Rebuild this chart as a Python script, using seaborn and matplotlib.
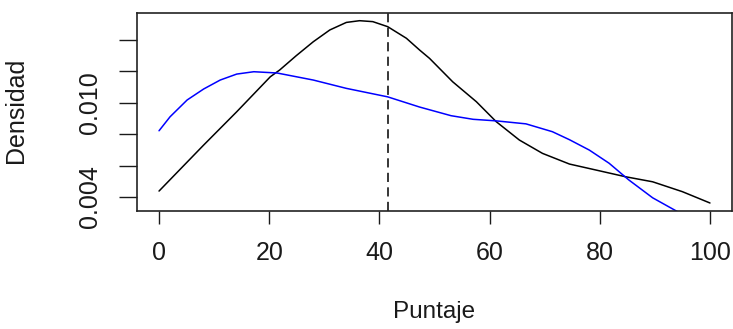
import matplotlib
matplotlib.use("Agg")
import matplotlib.pyplot as plt
import seaborn as sns
import pandas as pd

# --- data ---
black_x = [0, 8.1, 14.1, 20.2, 21.9, 24.9, 28.0, 31.0, 34.0, 36.4, 38.8, 41.5,
           44.9, 47.3, 49.1, 53.3, 57.6, 61.2, 65.4, 69.6, 74.5, 79.3, 84.7,
           89.6, 95.0, 100]
black_y = [0.00438, 0.00731, 0.00943, 0.01166, 0.01209, 0.01300, 0.01389, 0.01464,
           0.01512, 0.01523, 0.01517, 0.01485, 0.01411, 0.01336, 0.01283, 0.01134,
           0.01007, 0.00880, 0.00763, 0.00678, 0.00610, 0.00572, 0.00529, 0.00497,
           0.00434, 0.00362]
blue_x = [0, 2.0, 5.1, 8.1, 11.1, 14.1, 17.2, 21.4, 28.0, 34.0, 41.5, 47.3,
          53.0, 57.0, 61.2, 66.6, 71.4, 74.5, 78.1, 81.7, 85.3, 89.6, 94.1]
blue_y = [0.00822, 0.00911, 0.01018, 0.01088, 0.01145, 0.01183, 0.01198, 0.01190,
          0.01145, 0.01092, 0.01038, 0.00973, 0.00918, 0.00895, 0.00885, 0.00866,
          0.00816, 0.00765, 0.00699, 0.00615, 0.00508, 0.00395, 0.00307]
mean_x = 41.5
x_ticks = [0, 20, 40, 60, 80, 100]
y_ticks = [0.004, 0.006, 0.008, 0.010, 0.012, 0.014]
y_tick_labels = ["0.004", "", "", "0.010", "", ""]
x_label = "Puntaje"
y_label = "Densidad"

sns.set_style("ticks")
plt.rcParams["font.family"] = ["Liberation Sans", "DejaVu Sans"]

fig = plt.figure(figsize=(7.33, 3.29), dpi=100)
ax = fig.add_axes([137 / 733, 1 - 211 / 329, (732 - 137) / 733, (211 - 13) / 329])

df_black = pd.DataFrame({"x": black_x, "y": black_y})
df_blue = pd.DataFrame({"x": blue_x, "y": blue_y})
sns.lineplot(data=df_black, x="x", y="y", ax=ax, color="black", linewidth=1.1, sort=False)
sns.lineplot(data=df_blue, x="x", y="y", ax=ax, color="#0000FF", linewidth=1.1, sort=False)
ax.axvline(mean_x, color="black", linestyle=(0, (6, 3.5)), linewidth=1.1)

ax.set_xlim(-4, 104)
ax.set_ylim(0.00311, 0.01572)
ax.set_xticks(x_ticks)
ax.set_xticklabels([str(t) for t in x_ticks], fontsize=18)
ax.set_yticks(y_ticks)
ax.set_yticklabels(y_tick_labels, fontsize=18, rotation=90, va="center")

ax.tick_params(axis="x", length=9.5, width=1.0, pad=12, colors="#1a1a1a")
ax.tick_params(axis="y", length=13, width=1.0, pad=12, colors="#1a1a1a")
for s in ax.spines.values():
    s.set_visible(True)
    s.set_linewidth(1.2)
    s.set_color("#222222")

ax.set_xlabel(x_label, fontsize=17.5, color="#1a1a1a")
ax.set_ylabel(y_label, fontsize=18, color="#1a1a1a")
ax.xaxis.set_label_coords(0.5, -0.51)
ax.xaxis.label.set_va("center")
ax.yaxis.set_label_coords(-0.203, 0.51)
ax.yaxis.label.set_va("center")

fig.savefig("out.png", dpi=100)
